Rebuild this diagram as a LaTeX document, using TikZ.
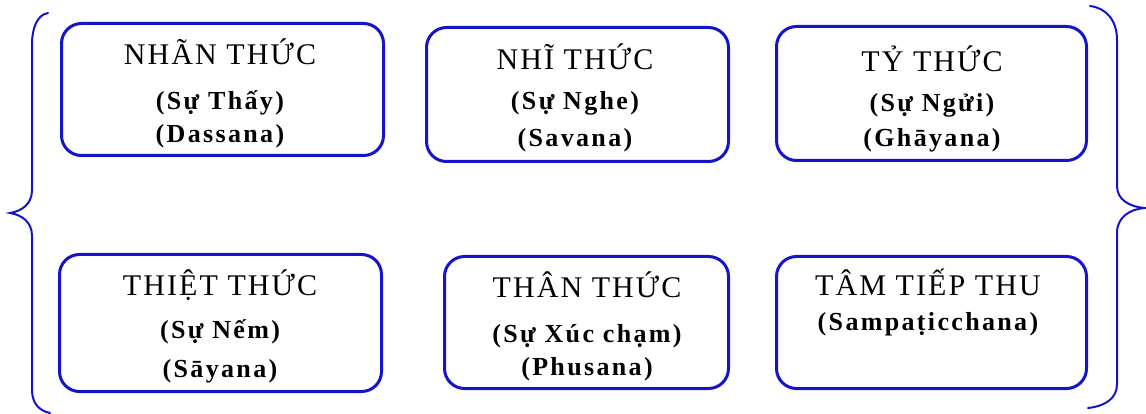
\documentclass[tikz,border=0pt]{standalone}
\usepackage{fontspec}
\setmainfont{Liberation Serif}
\definecolor{bblue}{RGB}{20,20,205}
\begin{document}
\begin{tikzpicture}[x=1pt,y=-1pt,
  box/.style={draw=bblue, line width=3pt, rounded corners=20pt, inner sep=0pt, minimum width=#1},
  ttl/.style={anchor=base, inner sep=0pt, font=\fontsize{30}{30}\selectfont\addfontfeatures{LetterSpace=7}},
  sub/.style={anchor=base, inner sep=0pt, font=\bfseries\fontsize{26}{26}\selectfont\addfontfeatures{LetterSpace=9}},
  brace/.style={draw=bblue, line width=2pt, line cap=round}]
\useasboundingbox (0,0) rectangle (1146,414);
\fill[white] (0,0) rectangle (1146,414);
% boxes
\node[box=322pt, minimum height=132pt] (b1) at (222.5,89.5) {};
\node[box=302pt, minimum height=134pt] (b2) at (577.5,94.5) {};
\node[box=310pt, minimum height=134pt] (b3) at (931.5,93.5) {};
\node[box=322pt, minimum height=137pt] (b4) at (220.5,323) {};
\node[box=284pt, minimum height=132pt] (b5) at (586.5,322.5) {};
\node[box=310pt, minimum height=132pt] (b6) at (931.5,322.5) {};
% texts
\node[ttl] (t1a) at (220,65) {NHÃN THỨC};
\node[sub] (t1b) at (220,110) {(Sự Thấy)};
\node[sub] (t1c) at (220,143) {(Dassana)};
\node[ttl] (t2a) at (575,70) {NHĨ THỨC};
\node[sub] (t2b) at (575,110) {(Sự Nghe)};
\node[sub] (t2c) at (575,147) {(Savana)};
\node[ttl] (t3a) at (932,72) {TỶ THỨC};
\node[sub] (t3b) at (932,112) {(Sự Ngửi)};
\node[sub] (t3c) at (932,147) {(Ghāyana)};
\node[ttl] (t4a) at (220,295) {THIỆT THỨC};
\node[sub] (t4b) at (220,338) {(Sự Nếm)};
\node[sub] (t4c) at (220,377) {(Sāyana)};
\node[ttl] (t5a) at (587,297) {THÂN THỨC};
\node[sub] (t5b) at (587,342) {(Sự Xúc chạm)};
\node[sub] (t5c) at (587,375) {(Phusana)};
\node[ttl] (t6a) at (928,295) {TÂM TIẾP THU};
\node[sub] (t6b) at (928,330) {(Sampaṭicchana)};
% braces
\draw[brace] (48,13) .. controls (37,15) and (32,28) .. (32,45) -- (32,190)
  .. controls (32,204) and (22,211) .. (10,213)
  .. controls (22,215) and (32,222) .. (32,236) -- (32,390)
  .. controls (32,404) and (40,411) .. (50,413);
\draw[brace] (1090,6) .. controls (1106,8) and (1117,20) .. (1117,40) -- (1117,186)
  .. controls (1117,200) and (1130,207) .. (1145,208)
  .. controls (1130,209) and (1117,217) .. (1117,233) -- (1117,384)
  .. controls (1117,398) and (1106,406) .. (1088,408);
\end{tikzpicture}
\end{document}
